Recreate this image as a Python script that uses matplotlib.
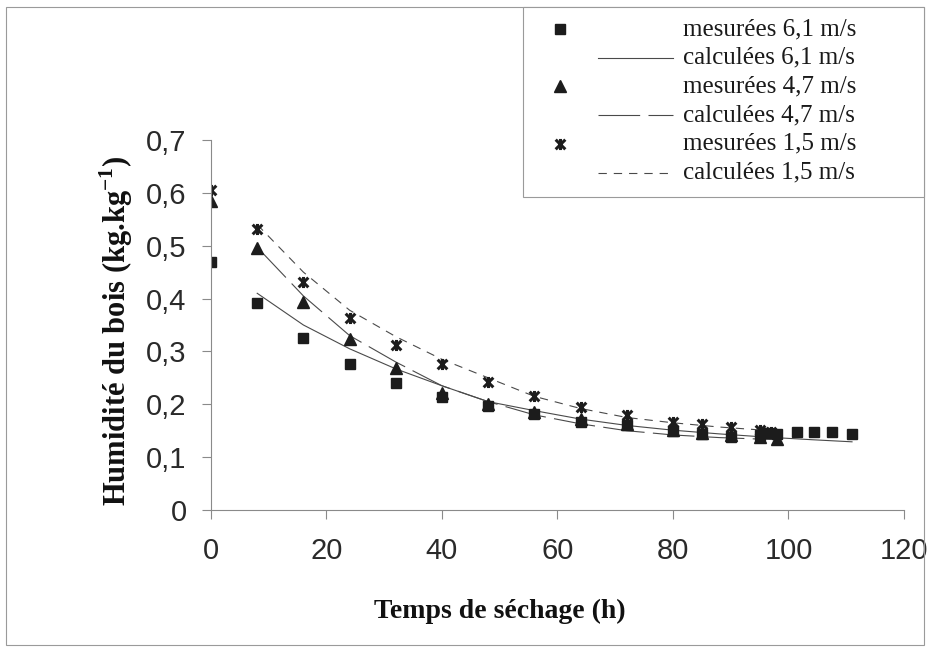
import numpy as np
import matplotlib
matplotlib.use("Agg")
import matplotlib.pyplot as plt
from matplotlib.path import Path
from matplotlib.lines import Line2D
from matplotlib.patches import Rectangle
from matplotlib.ticker import FuncFormatter

t_mes_61 = [0, 8, 16, 24, 32, 40, 48, 56, 64, 72, 80, 85, 90, 95, 96.5, 98, 101.5, 104.5, 107.5, 111]
h_mes_61 = [0.469, 0.392, 0.325, 0.276, 0.241, 0.214, 0.197, 0.182, 0.167, 0.160, 0.149, 0.143,
            0.139, 0.141, 0.145, 0.143, 0.148, 0.147, 0.147, 0.143]
t_mes_47 = [0, 8, 16, 24, 32, 40, 48, 56, 64, 72, 80, 85, 90, 95, 98]
h_mes_47 = [0.585, 0.495, 0.394, 0.323, 0.268, 0.222, 0.200, 0.185, 0.172, 0.162, 0.152, 0.146,
            0.142, 0.138, 0.135]
t_mes_15 = [0, 8, 16, 24, 32, 40, 48, 56, 64, 72, 80, 85, 90, 95, 97]
h_mes_15 = [0.605, 0.531, 0.432, 0.363, 0.312, 0.276, 0.242, 0.216, 0.195, 0.180, 0.166, 0.162,
            0.157, 0.151, 0.148]

# calculated curves
t_cal_61 = [8, 16, 24, 32, 40, 48, 56, 64, 72, 80, 88, 96, 104, 111]
h_cal_61 = [0.410, 0.350, 0.305, 0.267, 0.235, 0.205, 0.188, 0.172, 0.160, 0.151, 0.144, 0.138, 0.133, 0.129]
t_cal_47 = [8, 16, 24, 32, 40, 48, 56, 64, 72, 80, 88, 98]
h_cal_47 = [0.497, 0.405, 0.330, 0.280, 0.235, 0.205, 0.180, 0.163, 0.150, 0.142, 0.137, 0.133]
t_cal_15 = [8, 16, 24, 32, 40, 48, 56, 64, 72, 80, 88, 97]
h_cal_15 = [0.540, 0.450, 0.378, 0.328, 0.285, 0.250, 0.215, 0.192, 0.175, 0.165, 0.157, 0.150]

legend_labels = ["mesurées 6,1 m/s", "calculées 6,1 m/s", "mesurées 4,7 m/s",
                 "calculées 4,7 m/s", "mesurées 1,5 m/s", "calculées 1,5 m/s"]

plt.rcParams["lines.scale_dashes"] = False
plt.rcParams["mathtext.fontset"] = "custom"
plt.rcParams["mathtext.rm"] = "Liberation Serif"
plt.rcParams["mathtext.bf"] = "Liberation Serif:bold"

W, H = 929, 648
fig = plt.figure(figsize=(W / 100, H / 100), dpi=100)

def fx(px):
    return px / W

def fy(py):
    return 1 - py / H

ax = fig.add_axes([fx(211), fy(510), fx(904) - fx(211), fy(140) - fy(510)])

# Excel style star marker: X with a vertical bar
star = Path([(-1, -1), (1, 1), (-1, 1), (1, -1), (0, -1.15), (0, 1.15)],
            [Path.MOVETO, Path.LINETO, Path.MOVETO, Path.LINETO, Path.MOVETO, Path.LINETO])

mk_col = "#1c1c1c"
ln_col = "#4a4a4a"
sty_61 = dict(color=ln_col, lw=0.8, ls="-")
sty_47 = dict(color=ln_col, lw=0.8, ls=(0, (30, 6)))
sty_15 = dict(color=ln_col, lw=0.8, ls=(0, (6, 5)))
mk_61 = dict(marker="s", ms=7, color=mk_col, ls="none")
mk_47 = dict(marker="^", ms=8, color=mk_col, ls="none")
mk_15 = dict(marker=star, ms=8, color=mk_col, mew=2.2, ls="none")

ax.plot(t_cal_61, h_cal_61, **sty_61)
ax.plot(t_cal_47, h_cal_47, **sty_47)
ax.plot(t_cal_15, h_cal_15, **sty_15)
ax.plot(t_mes_61, h_mes_61, **mk_61)
ax.plot(t_mes_47, h_mes_47, **mk_47)
ax.plot(t_mes_15, h_mes_15, **mk_15)

ax.set_xlim(0, 120)
ax.set_ylim(0, 0.7)
ax.set_xticks(np.arange(0, 121, 20))
ax.set_yticks(np.arange(0, 0.71, 0.1))
ax.yaxis.set_major_formatter(FuncFormatter(lambda v, p: ("%g" % round(v, 1)).replace(".", ",")))
for s in ["top", "right"]:
    ax.spines[s].set_visible(False)
for s in ["left", "bottom"]:
    ax.spines[s].set_color("#8a8a8a")
    ax.spines[s].set_linewidth(0.8)
ax.tick_params(axis="both", direction="out", length=6.5, width=0.8, color="#8a8a8a",
               labelsize=21, labelcolor="#2a2a2a")
ax.tick_params(axis="y", pad=11)
ax.tick_params(axis="x", pad=13)
for lab in ax.get_xticklabels() + ax.get_yticklabels():
    lab.set_family("Liberation Sans")

fig.text(fx(500), fy(611), "Temps de séchage (h)", family="Liberation Serif", weight="bold",
         size=20, ha="center", va="center", color="#111111")
fig.text(fx(116), fy(331), r"Humidité du bois (kg.kg$^{\mathbf{-1}}$)", family="Liberation Serif",
         weight="bold", size=22, ha="center", va="center", rotation=90, color="#111111")

# outer border and legend box
fig.add_artist(Rectangle((fx(6), fy(645)), fx(924) - fx(6), fy(7) - fy(645), transform=fig.transFigure,
                         fill=False, ec="#9a9a9a", lw=0.8))
fig.add_artist(Rectangle((fx(523), fy(197)), fx(924) - fx(523), fy(7) - fy(197), transform=fig.transFigure,
                         fill=True, fc="white", ec="#9a9a9a", lw=0.8))

entries = [mk_61, sty_61, mk_47, sty_47, mk_15, sty_15]
for i, (st, lab) in enumerate(zip(entries, legend_labels)):
    yy = fy(29 + i * 28.7)
    if "marker" in st:
        fig.add_artist(Line2D([fx(560)], [yy], transform=fig.transFigure, **st))
    else:
        fig.add_artist(Line2D([fx(598), fx(673)], [yy, yy], transform=fig.transFigure, **st))
    fig.text(fx(683), yy, lab, family="Liberation Serif", size=18, ha="left", va="center",
             color="#1a1a1a")

fig.savefig("out.png", dpi=100)
